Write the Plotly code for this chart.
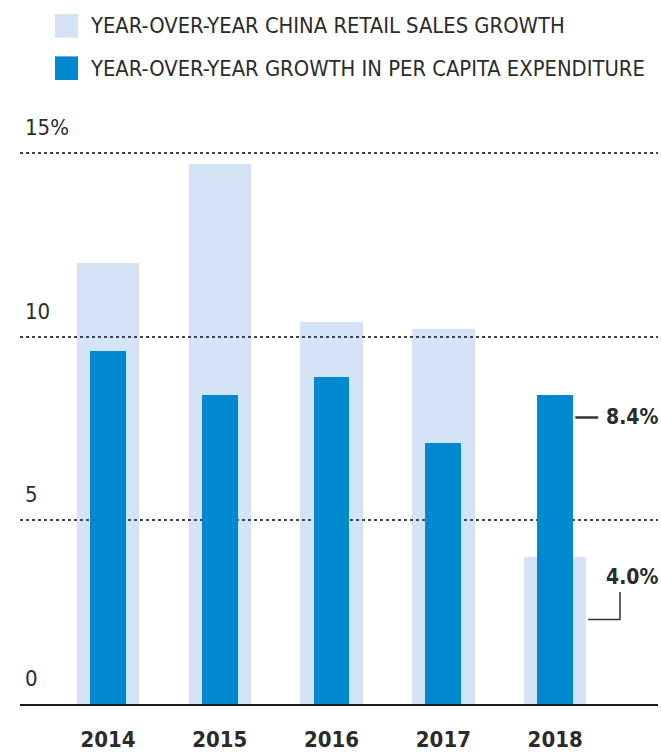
import plotly.graph_objects as go

years = [2014, 2015, 2016, 2017, 2018]
retail_growth = [12.0, 14.7, 10.4, 10.2, 4.0]
per_capita_growth = [9.6, 8.4, 8.9, 7.1, 8.4]
y_ticks = [0, 5, 10, 15]
y_tick_labels = ["0", "5", "10", "15%"]
legend_names = ["YEAR-OVER-YEAR CHINA RETAIL SALES GROWTH",
                "YEAR-OVER-YEAR GROWTH IN PER CAPITA EXPENDITURE"]

LIGHT = "#d4e2f3"
LIGHT_T = "rgba(0,88,200,0.17)"
DARK = "#0089cf"
TXT = "#2b2b2b"
FONT = "Liberation Sans Narrow, DejaVu Sans Condensed, sans-serif"

fig = go.Figure()
fig.add_bar(x=years, y=retail_growth, width=0.56, marker=dict(color=LIGHT_T, line_width=0),
            name=legend_names[0], showlegend=False)
fig.add_bar(x=years, y=per_capita_growth, width=0.32, marker=dict(color=DARK, line_width=0),
            name=legend_names[1], showlegend=False)

annotations = []
shapes = []
# y tick labels above gridlines
for v, t in zip(y_ticks, y_tick_labels):
    annotations.append(dict(x=0, xref="paper", y=v, yref="y", text=t, showarrow=False,
                            xanchor="left", yanchor="bottom", xshift=3, yshift=11,
                            font=dict(family=FONT, size=22, color=TXT)))

# legend
for i, (name, col) in enumerate(zip(legend_names, [LIGHT, DARK])):
    y0 = 10 + i * 43
    shapes.append(dict(type="rect", xref="paper", yref="paper",
                       x0=(55 - 20) / 638, x1=(78 - 20) / 638,
                       y0=1 + (140 - y0 - 24) / 571, y1=1 + (140 - y0) / 571,
                       fillcolor=col, line_width=0))
    annotations.append(dict(x=(88 - 20) / 638, xref="paper", y=1 + (140 - y0 - 12) / 571, yref="paper",
                            text=name, showarrow=False, xanchor="left", yanchor="middle",
                            font=dict(family=FONT, size=21.8, color=TXT)))

# callouts for 2018
x18 = years[4]
v_dark = per_capita_growth[4]
v_light = retail_growth[4]
shapes.append(dict(type="line", xref="x", yref="y", x0=x18 + 0.18, x1=x18 + 0.385,
                   y0=v_dark - 0.6, y1=v_dark - 0.6, line=dict(color="#333", width=2.5)))
annotations.append(dict(x=x18 + 0.44, xref="x", y=v_dark - 0.6, yref="y",
                        text=f"<b>{v_dark:.1f}%</b>", showarrow=False, xanchor="left", yanchor="middle",
                        font=dict(family=FONT, size=21, color=TXT)))
shapes.append(dict(type="path", xref="x", yref="y",
                   path=f"M {x18 + 0.295} {v_light - 1.70} L {x18 + 0.58} {v_light - 1.70} L {x18 + 0.58} {v_light - 0.95}",
                   line=dict(color="#333", width=1.5)))
annotations.append(dict(x=x18 + 0.44, xref="x", y=v_light - 0.54, yref="y",
                        text=f"<b>{v_light:.1f}%</b>", showarrow=False, xanchor="left", yanchor="middle",
                        font=dict(family=FONT, size=21, color=TXT)))

fig.update_layout(
    width=661, height=755,
    margin=dict(l=20, r=3, t=142, b=42),
    paper_bgcolor="white", plot_bgcolor="white",
    barmode="overlay", bargap=0,
    showlegend=False,
    font=dict(family=FONT, color=TXT),
    annotations=annotations, shapes=shapes,
    xaxis=dict(range=[years[0] - 0.7875, years[-1] + 0.92], showgrid=False, ticks="",
               showline=True, linecolor="#1a1a1a", linewidth=2, zeroline=False,
               tickfont=dict(family=FONT, size=22, color=TXT),
               tickvals=years, ticktext=[f"<b>{y}</b>" for y in years],
               ticklabelstandoff=15, fixedrange=True),
    yaxis=dict(range=[0, 15.3], tickvals=y_ticks, showticklabels=False, showgrid=True,
               gridcolor="#444", gridwidth=1.5, griddash="dot", zeroline=False,
               showline=False, fixedrange=True),
)

fig.write_html("out.html", config={"displayModeBar": False},
               post_script="document.body.style.margin='0';document.body.style.overflow='hidden';")
